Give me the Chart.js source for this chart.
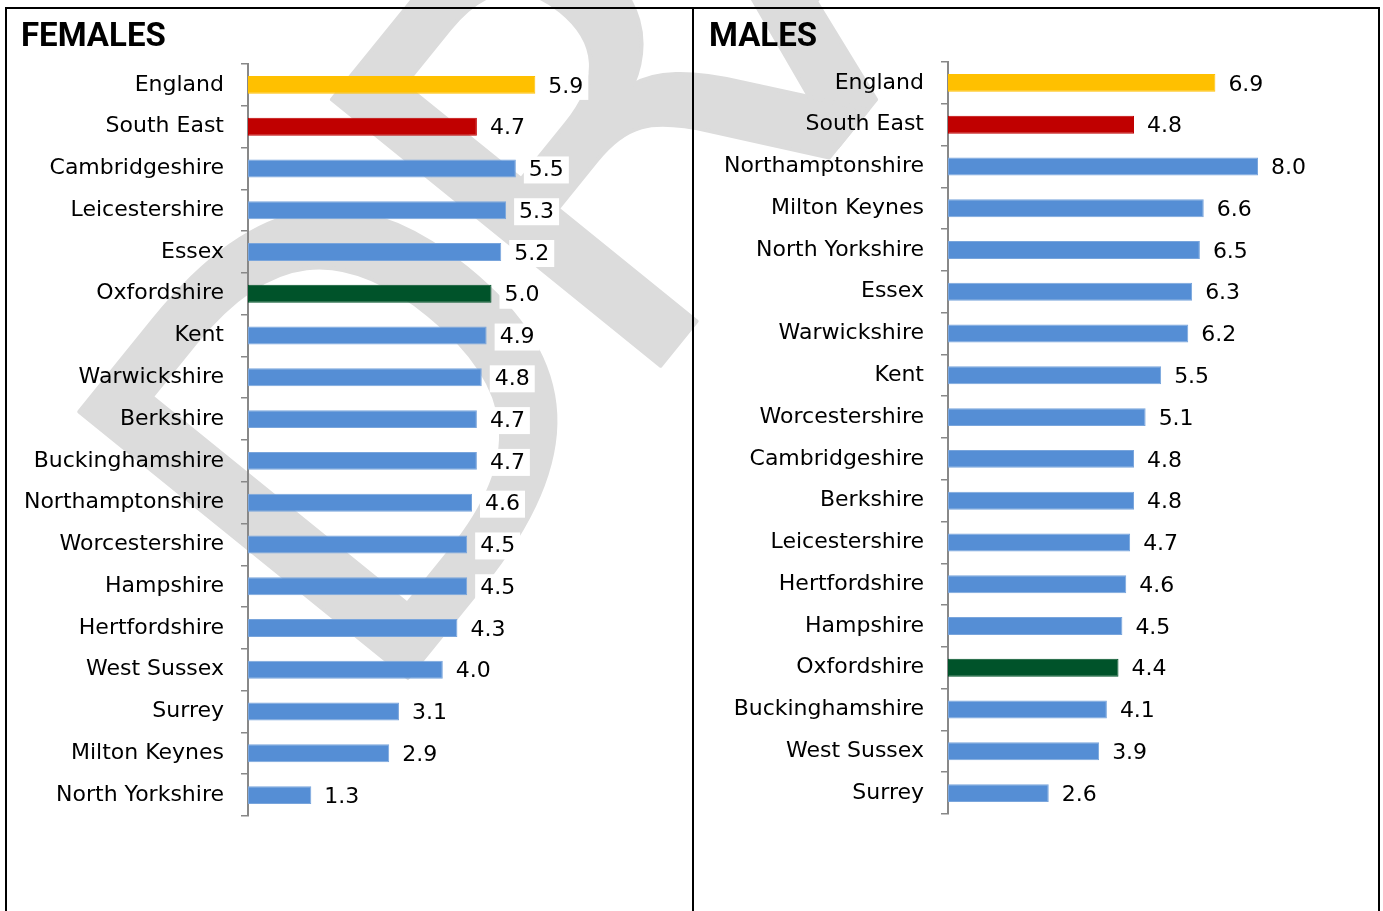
<!DOCTYPE html>
<html>
<head>
<meta charset="utf-8">
<script src="https://cdn.jsdelivr.net/npm/chart.js@4.4.1/dist/chart.umd.min.js"></script>
<style>
  html, body { margin: 0; padding: 0; background: #fff; width: 1383px; height: 911px; overflow: hidden; }
  .frame { position: absolute; left: 5px; top: 7px; width: 1371px; height: 1000px; border: 2px solid #000; }
  .divider { position: absolute; left: 692px; top: 7px; width: 2px; height: 1000px; background: #000; }
  .title { position: absolute; top: 18px; font: bold 33px Roboto, "Liberation Sans", sans-serif; line-height: 33px; color: #000; }
  canvas { position: absolute; }
</style>
</head>
<body>
<canvas id="watermark" style="left:0;top:0" width="1383" height="911"></canvas>
<div class="frame"></div>
<div class="divider"></div>
<div class="title" style="left:21px">FEMALES</div>
<div class="title" style="left:709px">MALES</div>
<canvas id="femaleChart" style="left:7px;top:50px" width="685" height="800"></canvas>
<canvas id="maleChart" style="left:695px;top:50px" width="684" height="800"></canvas>
<script>
const femaleAreas = ['England', 'South East', 'Cambridgeshire', 'Leicestershire', 'Essex', 'Oxfordshire', 'Kent',
    'Warwickshire', 'Berkshire', 'Buckinghamshire', 'Northamptonshire', 'Worcestershire', 'Hampshire',
    'Hertfordshire', 'West Sussex', 'Surrey', 'Milton Keynes', 'North Yorkshire'];
const femaleValues = [5.9, 4.7, 5.5, 5.3, 5.2, 5.0, 4.9, 4.8, 4.7, 4.7, 4.6, 4.5, 4.5, 4.3, 4.0, 3.1, 2.9, 1.3];

const maleAreas = ['England', 'South East', 'Northamptonshire', 'Milton Keynes', 'North Yorkshire', 'Essex',
    'Warwickshire', 'Kent', 'Worcestershire', 'Cambridgeshire', 'Berkshire', 'Leicestershire', 'Hertfordshire',
    'Hampshire', 'Oxfordshire', 'Buckinghamshire', 'West Sussex', 'Surrey'];
const maleValues = [6.9, 4.8, 8.0, 6.6, 6.5, 6.3, 6.2, 5.5, 5.1, 4.8, 4.8, 4.7, 4.6, 4.5, 4.4, 4.1, 3.9, 2.6];

const BLUE = '#558ed5';
const special = { 'England': '#ffc000', 'South East': '#c00000', 'Oxfordshire': '#00532a' };
const colorsFor = areas => areas.map(a => special[a] || BLUE);
const bordersFor = areas => areas.map(a => special[a] ? special[a] : '#79a5dc');

const FONT = '"DejaVu Sans", Verdana, sans-serif';

// grey DRAFT watermark behind the charts
(function () {
    const ctx = document.getElementById('watermark').getContext('2d');
    ctx.save();
    ctx.translate(372, 722);
    ctx.rotate(-51 * Math.PI / 180);
    ctx.font = '580px "DejaVu Sans", sans-serif';
    ctx.letterSpacing = '-45px';
    ctx.textAlign = 'left';
    ctx.textBaseline = 'alphabetic';
    ctx.fillStyle = '#dcdcdc';
    ctx.strokeStyle = '#dcdcdc';
    ctx.lineJoin = 'round';
    ctx.lineWidth = 4;
    ctx.fillText('DRAFT', 0, 0);
    ctx.strokeText('DRAFT', 0, 0);
    ctx.restore();
})();

// value labels at the end of each bar, on a white box
const valueLabels = {
    id: 'valueLabels',
    afterDatasetsDraw(chart) {
        const ctx = chart.ctx;
        const ds = chart.data.datasets[0];
        ctx.save();
        ctx.font = '22px ' + FONT;
        ctx.textBaseline = 'middle';
        ctx.textAlign = 'left';
        chart.getDatasetMeta(0).data.forEach((bar, i) => {
            const txt = ds.data[i].toFixed(1);
            const w = ctx.measureText(txt).width;
            ctx.fillStyle = '#fff';
            ctx.fillRect(bar.x + 8, bar.y - 12, w + 10, 27);
            ctx.fillStyle = '#000';
            ctx.fillText(txt, bar.x + 13, bar.y + 2);
        });
        ctx.restore();
    }
};

function makeChart(id, areas, values, axisWidth, padTop, pxPerUnit, xMax) {
    const canvas = document.getElementById(id);
    const padBottom = canvas.height - padTop - 752;
    const padRight = canvas.width - axisWidth - pxPerUnit * xMax;
    return new Chart(canvas, {
        type: 'bar',
        data: {
            labels: areas,
            datasets: [{
                data: values,
                backgroundColor: colorsFor(areas),
                borderColor: bordersFor(areas),
                borderWidth: 1,
                borderSkipped: false,
                categoryPercentage: 1,
                barPercentage: 0.43
            }]
        },
        options: {
            indexAxis: 'y',
            responsive: false,
            animation: false,
            layout: { padding: { top: padTop, bottom: padBottom, right: padRight, left: 0 } },
            plugins: { legend: { display: false }, tooltip: { enabled: false } },
            scales: {
                x: { display: false, min: 0, max: xMax },
                y: {
                    afterFit: s => { s.width = axisWidth; s.paddingTop = 0; s.paddingBottom = 0; },
                    border: { display: true, color: '#888888', width: 2 },
                    grid: { offset: true, drawOnChartArea: false, drawTicks: true, tickLength: 7, color: '#888888', lineWidth: 1.5 },
                    ticks: { color: '#000', padding: 17, font: { family: FONT, size: 22 } }
                }
            }
        },
        plugins: [valueLabels]
    });
}

makeChart('femaleChart', femaleAreas, femaleValues, 241, 14, 48.7, 8.5);
makeChart('maleChart', maleAreas, maleValues, 253, 12, 38.75, 10);
</script>
</body>
</html>
